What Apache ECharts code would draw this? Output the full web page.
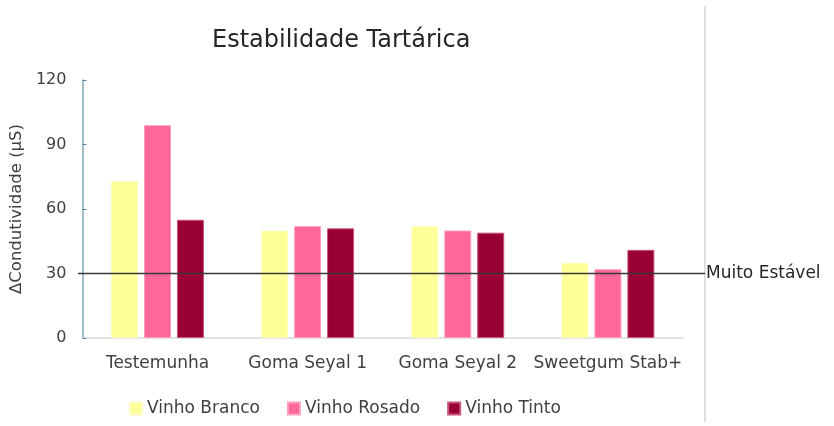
<!DOCTYPE html>
<html><head><meta charset="utf-8">
<script src="https://cdn.jsdelivr.net/npm/echarts@6/dist/echarts.min.js"></script>
<style>html,body{margin:0;padding:0;background:#fff}#c{width:834px;height:426px}</style>
</head><body><div id="c"></div>
<script>
const categories = ['Testemunha', 'Goma Seyal 1', 'Goma Seyal 2', 'Sweetgum Stab+'];
const seriesNames = ['Vinho Branco', 'Vinho Rosado', 'Vinho Tinto'];
const vinhoBranco = [73, 50, 52, 35];
const vinhoRosado = [99, 52, 50, 32];
const vinhoTinto = [55, 51, 49, 41];
const yTicks = [0, 30, 60, 90, 120];
const threshold = 30;
const thresholdLabel = 'Muito Estável';

const colors = ['#FFFF99', '#FF6699', '#990033'];
const borders = ['#fdfdc0', '#ff9fbf', '#c8557c'];
const values = [vinhoBranco, vinhoRosado, vinhoTinto];
const FONT = 'DejaVu Sans';

const chart = echarts.init(document.getElementById('c'));
const series = seriesNames.map((n, i) => ({
  name: n, type: 'bar', xAxisIndex: 0, yAxisIndex: 0,
  data: values[i], barWidth: 27, barGap: '22%',
  itemStyle: { color: colors[i], borderColor: borders[i], borderWidth: 1 },
  emphasis: { disabled: true }
}));
series.push({
  type: 'line', xAxisIndex: 1, yAxisIndex: 1, data: [], silent: true,
  markLine: {
    symbol: 'none', silent: true,
    lineStyle: { color: '#3a3a3a', width: 1.3, type: 'solid' },
    label: { show: true, position: 'end', formatter: thresholdLabel, color: '#262626', fontSize: 17, fontFamily: FONT, distance: 1 },
    data: [{ yAxis: threshold }]
  }
});

chart.setOption({
  animation: false,
  backgroundColor: '#fff',
  title: { text: 'Estabilidade Tartárica', left: 207, top: 24,
    textStyle: { fontSize: 24, fontWeight: 'normal', color: '#262626', fontFamily: FONT } },
  legend: { data: seriesNames, left: 124, top: 395, itemWidth: 12, itemHeight: 12, itemGap: 27,
    icon: 'rect', textStyle: { fontSize: 17, color: '#404040', fontFamily: FONT } },
  grid: [
    { left: 82, right: 151, top: 80, bottom: 88 },
    { left: 78, right: 129, top: 80, bottom: 88 }
  ],
  xAxis: [
    { type: 'category', data: categories, gridIndex: 0,
      axisLine: { lineStyle: { color: '#d9d9d9', width: 1.5 } }, axisTick: { show: false },
      axisLabel: { interval: 0, fontSize: 17, color: '#404040', margin: 17, fontFamily: FONT } },
    { type: 'value', gridIndex: 1, min: 0, max: 1, show: false }
  ],
  yAxis: [
    { type: 'value', gridIndex: 0, min: yTicks[0], max: yTicks[yTicks.length - 1], interval: 30,
      name: 'ΔCondutividade (µS)', nameLocation: 'middle', nameGap: 52,
      nameTextStyle: { fontSize: 16.5, color: '#404040', fontFamily: FONT },
      axisLine: { show: true, lineStyle: { color: '#7fa7bf', width: 1.5 } },
      axisTick: { show: true, inside: true, length: 4, lineStyle: { color: '#4f81a0' } },
      splitLine: { show: false },
      axisLabel: { fontSize: 16, color: '#404040', margin: 16, fontFamily: FONT } },
    { type: 'value', gridIndex: 1, min: yTicks[0], max: yTicks[yTicks.length - 1], show: false }
  ],
  graphic: [{ type: 'line', shape: { x1: 705, y1: 6, x2: 705, y2: 422 }, style: { stroke: '#bfbfbf', lineWidth: 1 } }],
  series: series
});
</script></body></html>
